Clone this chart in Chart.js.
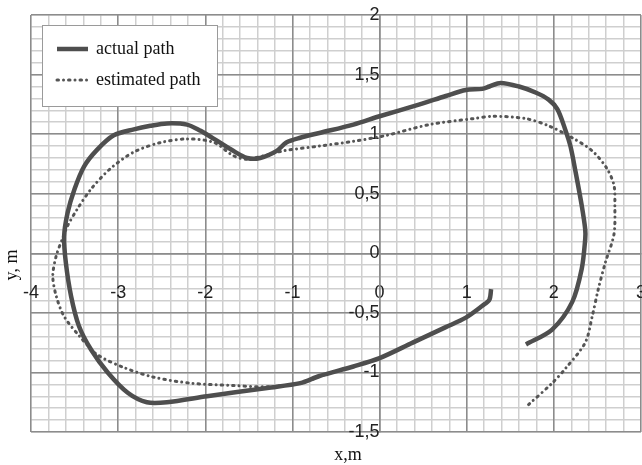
<!DOCTYPE html>
<html lang="en">
<head>
    <meta charset="UTF-8">
    <title>Robot path: actual vs estimated</title>
    <script src="https://cdn.jsdelivr.net/npm/chart.js"></script>
    <style>
        body { margin: 0; background: #fff; }
        .chart-container { position: relative; width: 642px; height: 465px; }
    </style>
</head>
<body>
    <div class="chart-container">
        <canvas id="pathChart"></canvas>
    </div>

    <script>
        // actual path, metres
        const actualX = [1.68, 1.98, 2.21, 2.32, 2.36, 2.36, 2.32, 2.25, 2.19, 2.13, 2.04, 1.94, 1.79, 1.60, 1.39, 1.26,
            1.18, 0.99, 0.76, 0.46, 0.00, -0.30, -0.69, -0.91, -1.07, -1.18, -1.37, -1.52, -1.68, -1.90, -2.06,
            -2.21, -2.44, -2.63, -2.82, -3.05, -3.24, -3.39, -3.50, -3.58, -3.62, -3.60, -3.54, -3.45, -3.31,
            -3.12, -2.89, -2.67, -2.44, -1.98, -1.29, -0.91, -0.69, -0.30, 0.00, 0.38, 0.76, 0.99, 1.18, 1.26, 1.28];
        const actualY = [-0.765, -0.64, -0.41, -0.13, 0.12, 0.20, 0.40, 0.68, 0.90, 1.04, 1.21, 1.29, 1.35, 1.40, 1.43, 1.40,
            1.38, 1.37, 1.32, 1.25, 1.15, 1.08, 1.01, 0.97, 0.93, 0.86, 0.80, 0.80, 0.86, 0.96, 1.03,
            1.08, 1.09, 1.07, 1.04, 0.99, 0.87, 0.73, 0.54, 0.34, 0.14, -0.08, -0.36, -0.61, -0.81,
            -1.00, -1.17, -1.25, -1.25, -1.20, -1.13, -1.09, -1.03, -0.95, -0.88, -0.75, -0.62, -0.54, -0.44, -0.39, -0.30];

        // estimated path, metres
        const estX = [1.71, 1.98, 2.13, 2.36, 2.44, 2.51, 2.59, 2.69, 2.70, 2.69, 2.61, 2.44, 2.21, 1.94, 1.68, 1.30,
            1.07, 0.57, 0.08, -0.30, -0.69, -1.10, -1.52, -1.68, -1.90, -2.21, -2.51, -2.82, -3.09, -3.31,
            -3.47, -3.58, -3.64, -3.71, -3.75, -3.71, -3.62, -3.45, -3.24, -2.93, -2.59, -2.17, -1.68, -1.29,
            -0.91, -0.60];
        const estY = [-1.27, -1.09, -0.97, -0.75, -0.53, -0.30, -0.08, 0.16, 0.40, 0.57, 0.71, 0.86, 0.97, 1.07, 1.13, 1.15,
            1.13, 1.08, 0.99, 0.94, 0.90, 0.86, 0.79, 0.82, 0.93, 0.96, 0.93, 0.85, 0.71, 0.54,
            0.37, 0.23, 0.12, -0.02, -0.19, -0.36, -0.53, -0.69, -0.85, -0.96, -1.04, -1.09, -1.11, -1.12,
            -1.09, -1.01];

        const seriesLabels = ['actual path', 'estimated path'];
        const axisTitles = { x: 'x,m', y: 'y, m' };

        const toPoints = (xs, ys) => xs.map((x, i) => ({ x: x, y: ys[i] }));
        const comma = v => String(v).replace('.', ',');

        const tickFont = { family: "'Liberation Sans', Arial, sans-serif", size: 18 };
        const serif = "'Liberation Serif', 'Times New Roman', serif";
        const majorGrid = '#8c8c8c';
        const minorGrid = '#cfcfcf';

        // legend box and axis titles drawn inside the plot, Excel style
        const overlay = {
            id: 'overlay',
            afterDatasetsDraw(chart) {
                const c = chart.ctx;
                const ds = chart.data.datasets;
                c.save();
                c.fillStyle = '#fff';
                c.strokeStyle = '#9a9a9a';
                c.lineWidth = 1;
                c.fillRect(42, 25, 175, 81);
                c.strokeRect(42.5, 25.5, 175, 81);

                c.font = '18px ' + serif;
                c.textBaseline = 'middle';
                [49, 80].forEach((yy, i) => {
                    c.strokeStyle = ds[i].borderColor;
                    c.lineWidth = ds[i].borderWidth;
                    c.lineCap = i ? 'round' : 'butt';
                    c.setLineDash(ds[i].borderDash || []);
                    c.beginPath();
                    c.moveTo(57, yy);
                    c.lineTo(88, yy);
                    c.stroke();
                    c.setLineDash([]);
                    c.fillStyle = '#111';
                    c.textAlign = 'left';
                    c.fillText(ds[i].label, 96, yy);
                });

                c.fillStyle = '#111';
                c.textAlign = 'center';
                c.fillText(axisTitles.x, 348, 455);
                c.translate(12, 265);
                c.rotate(-Math.PI / 2);
                c.fillText(axisTitles.y, 0, 0);
                c.restore();
            }
        };

        const noPad = s => { s.paddingLeft = 0; s.paddingRight = 0; s.paddingTop = 0; s.paddingBottom = 0; };

        new Chart(document.getElementById('pathChart'), {
            type: 'scatter',
            data: {
                datasets: [{
                    label: seriesLabels[0],
                    data: toPoints(actualX, actualY),
                    showLine: true,
                    borderColor: '#4e4e4e',
                    borderWidth: 4.5,
                    pointRadius: 0,
                    tension: 0.3
                }, {
                    label: seriesLabels[1],
                    data: toPoints(estX, estY),
                    showLine: true,
                    borderColor: '#555',
                    borderWidth: 3,
                    borderDash: [1.5, 5, 0.01, 5],
                    borderCapStyle: 'round',
                    pointRadius: 0,
                    tension: 0.3
                }]
            },
            options: {
                responsive: true,
                maintainAspectRatio: false,
                animation: false,
                layout: { padding: { left: 31, top: 15, right: 1, bottom: 33 } },
                plugins: { legend: { display: false }, tooltip: { enabled: false } },
                scales: {
                    xMinor: {
                        type: 'linear', axis: 'x', position: { y: 0 },
                        min: -4, max: 3,
                        ticks: { stepSize: 0.2, display: false },
                        grid: { color: minorGrid, lineWidth: 1.5, drawTicks: false, z: -2 },
                        border: { display: false },
                        afterFit: noPad
                    },
                    yMinor: {
                        type: 'linear', axis: 'y', position: { x: 0 },
                        min: -1.5, max: 2,
                        ticks: { stepSize: 0.1, display: false },
                        grid: { color: minorGrid, lineWidth: 1.5, drawTicks: false, z: -2 },
                        border: { display: false },
                        afterFit: noPad
                    },
                    x: {
                        type: 'linear', position: { y: 0 },
                        min: -4, max: 3,
                        ticks: { stepSize: 1, padding: 29, color: '#222', font: tickFont, maxRotation: 0 },
                        grid: { color: majorGrid, lineWidth: 1.5, drawTicks: false },
                        border: { color: majorGrid, width: 1.5 },
                        afterFit: noPad
                    },
                    y: {
                        type: 'linear', position: { x: 0 },
                        min: -1.5, max: 2,
                        ticks: { stepSize: 0.5, padding: 22, color: '#222', font: tickFont, callback: comma },
                        grid: { color: majorGrid, lineWidth: 1.5, drawTicks: false },
                        border: { color: majorGrid, width: 1.5 },
                        afterFit: noPad
                    }
                }
            },
            plugins: [overlay]
        });
    </script>
</body>
</html>
